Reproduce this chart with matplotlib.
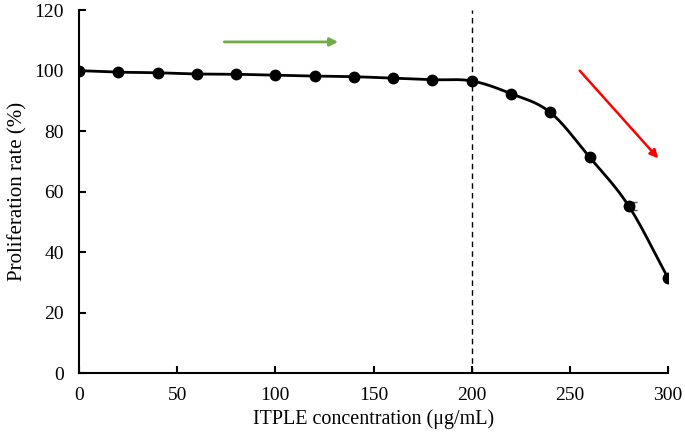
import numpy as np
import matplotlib
matplotlib.use('Agg')
import matplotlib.pyplot as plt

# data
conc = [0, 20, 40, 60, 80, 100, 120, 140, 160, 180, 200, 220, 240, 260, 280, 300]
rate = [100.0, 99.5, 99.3, 98.9, 98.8, 98.5, 98.2, 98.0, 97.5, 97.0, 96.6,
        92.4, 86.2, 71.4, 55.2, 31.4]
err_x = [282.5]
err_y = [55.2]
err_size = [1.3]
threshold = 200
green_arrow = ((74, 109.5), (132, 109.5))
red_arrow = ((255, 100.0), (295, 71.0))

plt.rcParams['font.family'] = ['Liberation Serif', 'DejaVu Serif']


def smooth(x, y, n=30):
    # catmull-rom curve through the points, like excel's smoothed line
    x = np.asarray(x, float)
    y = np.asarray(y, float)
    px = np.concatenate([[2 * x[0] - x[1]], x, [2 * x[-1] - x[-2]]])
    py = np.concatenate([[2 * y[0] - y[1]], y, [2 * y[-1] - y[-2]]])
    xs, ys = [], []
    t = np.linspace(0, 1, n, endpoint=False)
    for i in range(1, len(px) - 2):
        for p, out in ((px, xs), (py, ys)):
            p0, p1, p2, p3 = p[i - 1], p[i], p[i + 1], p[i + 2]
            out.extend(0.5 * (2 * p1 + (-p0 + p2) * t
                              + (2 * p0 - 5 * p1 + 4 * p2 - p3) * t ** 2
                              + (-p0 + 3 * p1 - 3 * p2 + p3) * t ** 3))
    xs.append(x[-1])
    ys.append(y[-1])
    return xs, ys


fig = plt.figure(figsize=(6.85, 4.42), dpi=100)
ax = fig.add_axes([0.1153, 0.156, 0.86, 0.821])

sx, sy = smooth(conc, rate)
ax.plot(sx, sy, color='black', lw=2, zorder=3)
ax.plot(conc, rate, 'o', color='black', ms=7.5, zorder=4)
ax.errorbar(err_x, err_y, yerr=err_size, fmt='none', ecolor='#555555',
            elinewidth=0.8, capsize=2, zorder=2)

ax.plot([threshold, threshold], [0, 120], color='black', lw=1, ls=(0, (4, 3)), zorder=1)

ax.annotate('', xy=green_arrow[1], xytext=green_arrow[0],
            arrowprops=dict(arrowstyle='-|>', color='#70ad47', lw=2,
                            mutation_scale=12, shrinkA=0, shrinkB=0))
ax.annotate('', xy=red_arrow[1], xytext=red_arrow[0],
            arrowprops=dict(arrowstyle='-|>', color='#ff0000', lw=1.8,
                            mutation_scale=12, shrinkA=0, shrinkB=0))

ax.set_xlim(0, 300)
ax.set_ylim(0, 120)
ax.set_xticks(range(0, 301, 50))
ax.set_yticks(range(0, 121, 20))
ax.spines['top'].set_visible(False)
ax.spines['right'].set_visible(False)
for s in ('left', 'bottom'):
    ax.spines[s].set_linewidth(1.5)
ax.tick_params(direction='in', length=5, width=1.5, labelsize=14, pad=10)
ax.tick_params(axis='y', pad=11)
ax.set_xlabel('ITPLE concentration (μg/mL)', fontsize=14.5, labelpad=4)
ax.set_ylabel('Proliferation rate (%)', fontsize=15, labelpad=5)

fig.savefig('out.png', dpi=100)
